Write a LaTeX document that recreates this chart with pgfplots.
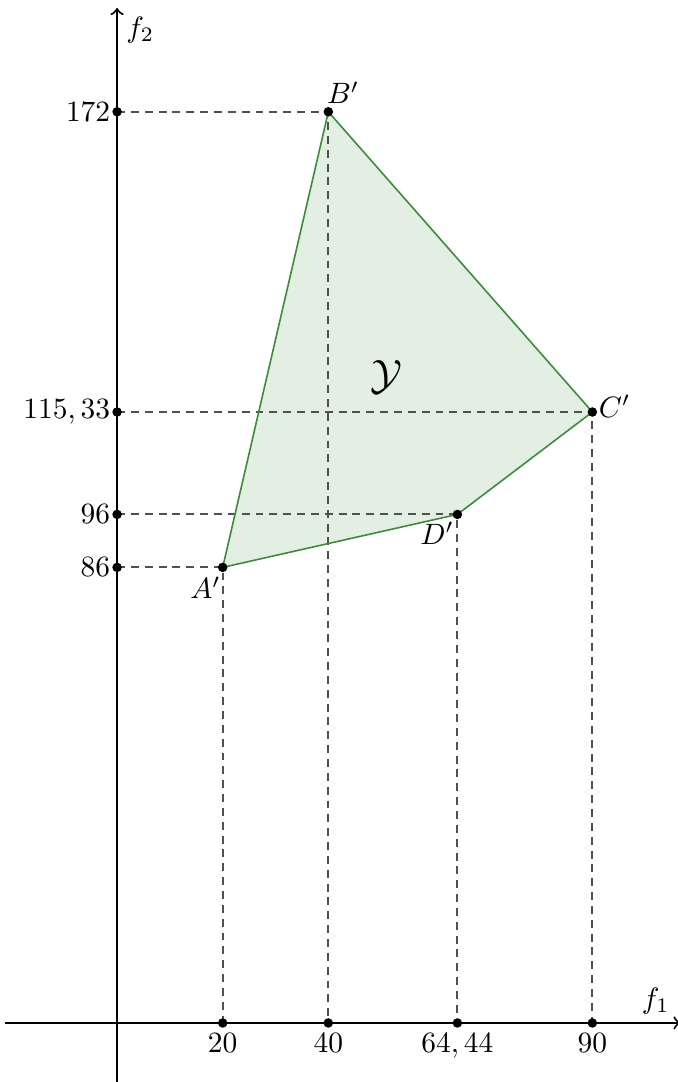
\documentclass[border=0pt]{standalone}
\usepackage{pgfplots}
\pgfplotsset{compat=1.18}
\usepackage{amssymb}

\definecolor{regfill}{RGB}{228,239,228}
\definecolor{regedge}{RGB}{64,140,60}
\definecolor{guidegray}{RGB}{80,80,80}

\begin{document}
\begin{tikzpicture}
\begin{axis}[
  x=0.063cm, y=0.0632cm,
  axis lines=middle,
  axis line style={line width=0.7pt, ->},
  xmin=-21.2, xmax=106.7, ymin=-11.1, ymax=191.6,
  enlargelimits=false, clip=false,
  xtick={20,40,64.44,90},
  xticklabels={$20$,$40$,{$64,44$},$90$},
  ytick={86,96,115.33,172},
  yticklabels={$86$,$96$,{$115,33$},$172$},
  yticklabel style={xshift=1.2pt},
  major tick length=0pt,
  projline/.style={guidegray, line width=0.65pt, dash pattern=on 2.7pt off 2pt},
]
% region Y
\addplot[fill=regfill, draw=none] coordinates {(20,86)(40,172)(90,115.33)(64.44,96)} --cycle;

% projections onto the axes
\addplot[projline] coordinates {(0,86)(20,86)(20,0)};
\addplot[projline] coordinates {(0,172)(40,172)(40,0)};
\addplot[projline] coordinates {(0,115.33)(90,115.33)(90,0)};
\addplot[projline] coordinates {(0,96)(64.44,96)(64.44,0)};

% boundary
\addplot[regedge, line width=0.55pt] coordinates {(20,86)(40,172)(90,115.33)(64.44,96)} --cycle;

% vertices and tick dots
\addplot[only marks, mark=*, mark size=1.4pt, black] coordinates {
  (20,86)(40,172)(90,115.33)(64.44,96)
  (20,0)(40,0)(64.44,0)(90,0)
  (0,86)(0,96)(0,115.33)(0,172)};

\node[anchor=south west, inner sep=0pt, xshift=-0.6pt, yshift=2.5pt] at (axis cs:40,172) {$B'$};
\node[anchor=west, inner sep=2pt, yshift=2pt] at (axis cs:90,115.33) {$C'$};
\node[anchor=north east, inner sep=1pt, yshift=-1.5pt] at (axis cs:64.44,96) {$D'$};
\node[anchor=north east, inner sep=1pt, xshift=0.5pt, yshift=-2pt] at (axis cs:20,86) {$A'$};
\node at (axis cs:51,122) {\Large$\mathcal{Y}$};
\node[anchor=west, inner sep=1pt] at (axis cs:1.1,187.5) {$f_2$};
\node[anchor=south, inner sep=2pt] at (axis cs:102,0.5) {$f_1$};

\coordinate (bbsw) at (axis cs:-22.17,-11.14);
\coordinate (bbne) at (axis cs:106.1,193.1);
\end{axis}
\pgfresetboundingbox
\path[use as bounding box] (bbsw) rectangle (bbne);
\end{tikzpicture}
\end{document}
